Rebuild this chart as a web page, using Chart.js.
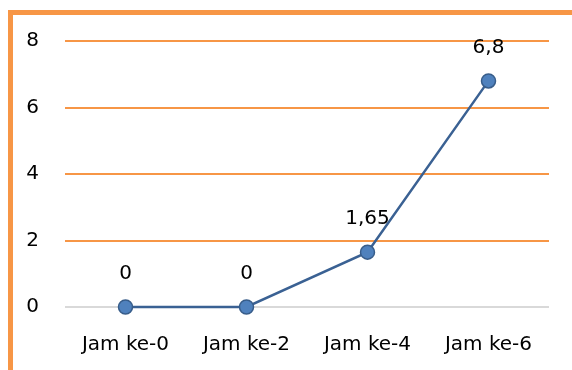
<!DOCTYPE html>
<html>
<head>
<meta charset="utf-8">
<script src="https://cdn.jsdelivr.net/npm/chart.js@4/dist/chart.umd.min.js"></script>
<style>
  html, body { margin: 0; padding: 0; background: #fff; overflow: hidden; }
  #wrap { position: relative; width: 572px; height: 370px; }
  #frame {
    position: absolute; left: 8px; top: 10px; width: 620px; height: 420px;
    border-left: 5px solid #F79646; border-top: 5px solid #F79646;
    pointer-events: none;
  }
  canvas { position: absolute; left: 0; top: 0; }
</style>
</head>
<body>
<div id="wrap">
  <canvas id="chart" width="572" height="370"></canvas>
  <div id="frame"></div>
</div>
<script>
const categories = ['Jam ke-0', 'Jam ke-2', 'Jam ke-4', 'Jam ke-6'];
const values = [0, 0, 1.65, 6.8];
const yTicks = [0, 2, 4, 6, 8];

const FONT = "'DejaVu Sans', sans-serif";
Chart.defaults.color = '#000';
Chart.defaults.font.family = FONT;
Chart.defaults.font.size = 20;

// decimal comma, as in the Indonesian number format
const fmt = v => String(v).replace('.', ',');

const valueLabels = {
  id: 'valueLabels',
  afterDatasetsDraw(chart) {
    const ctx = chart.ctx;
    const meta = chart.getDatasetMeta(0);
    ctx.save();
    ctx.font = '20px ' + FONT;
    ctx.fillStyle = '#000';
    ctx.textAlign = 'center';
    ctx.textBaseline = 'middle';
    meta.data.forEach((pt, i) => {
      ctx.fillText(fmt(values[i]), pt.x, pt.y - 33);
    });
    ctx.restore();
  }
};

new Chart(document.getElementById('chart'), {
  type: 'line',
  data: {
    labels: categories,
    datasets: [{
      data: values,
      clip: false,
      borderColor: '#3A6193',
      borderWidth: 2.5,
      pointRadius: 7,
      pointBackgroundColor: '#4F81BD',
      pointBorderColor: '#385D8A',
      pointBorderWidth: 1.5,
      tension: 0
    }]
  },
  options: {
    responsive: false,
    animation: false,
    events: [],
    layout: { padding: { top: 41, right: 23, left: 0, bottom: 0 } },
    plugins: { legend: { display: false }, tooltip: { enabled: false } },
    scales: {
      x: {
        offset: true,
        grid: { display: false, drawTicks: false },
        border: { display: false },
        ticks: { padding: 26 },
        afterFit: s => { s.height = 63; }
      },
      y: {
        min: 0, max: 8,
        afterBuildTicks: s => { s.ticks = yTicks.map(v => ({ value: v })); },
        grid: {
          drawTicks: false,
          lineWidth: 2,
          color: c => c.tick && c.tick.value === 0 ? '#D9D9D9' : '#F79646'
        },
        border: { display: false },
        ticks: { padding: 26 },
        afterFit: s => { s.width = 65; }
      }
    }
  },
  plugins: [valueLabels]
});
</script>
</body>
</html>
